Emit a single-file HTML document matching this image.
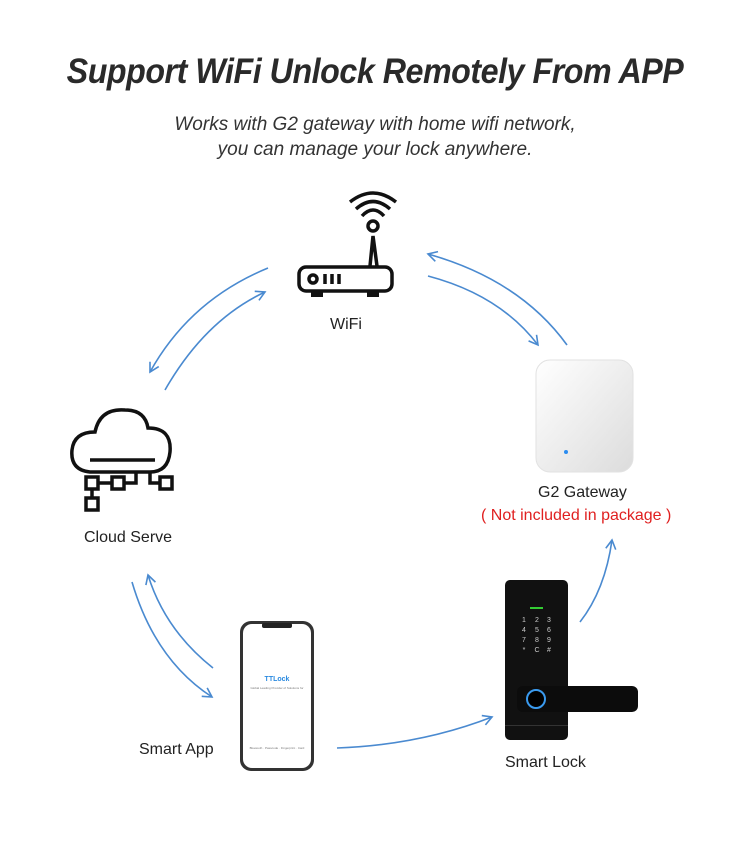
<!DOCTYPE html>
<html><head><meta charset="utf-8"><style>
body{margin:0;background:#fff;}
.w{position:relative;width:750px;height:850px;overflow:hidden;font-family:"Liberation Sans",sans-serif;}
.t{position:absolute;left:0;width:750px;text-align:center;}
</style></head><body><div class="w">
<div class="t" style="top:52px;font-size:35px;font-weight:bold;font-style:italic;color:#2a2a2a;letter-spacing:-0.5px;transform:scaleX(0.92);">Support WiFi Unlock Remotely From APP</div>
<div class="t" style="top:112px;font-size:19px;font-style:italic;color:#333;line-height:25px;">Works with G2 gateway with home wifi network,<br>you can manage your lock anywhere.</div>

<svg width="750" height="850" style="position:absolute;left:0;top:0">
<defs><marker id="a" markerWidth="12" markerHeight="12" refX="10" refY="6" orient="auto" markerUnits="userSpaceOnUse"><path d="M1,1 L10,6 L1,11" fill="none" stroke="#4a8ad0" stroke-width="1.6"/></marker></defs>
<g fill="none" stroke="#4a8ad0" stroke-width="1.6">
<path d="M268,268 Q190,300 150,372" marker-end="url(#a)"/>
<path d="M165,390 Q205,320 265,292" marker-end="url(#a)"/>
<path d="M567,345 Q520,280 428,254" marker-end="url(#a)"/>
<path d="M428,276 Q500,295 538,345" marker-end="url(#a)"/>
<path d="M580,622 Q605,590 612,540" marker-end="url(#a)"/>
<path d="M132,582 Q155,660 212,697" marker-end="url(#a)"/>
<path d="M213,668 Q165,630 148,575" marker-end="url(#a)"/>
<path d="M337,748 Q420,745 492,717" marker-end="url(#a)"/>
</g>
<g fill="none" stroke="#111" stroke-width="3.5">
<rect x="299" y="267" width="93" height="24" rx="7"/>
<circle cx="313" cy="279" r="4"/>
<path d="M325,274v10M332,274v10M339,274v10"/>
<path d="M370,266 L373,236 L377,266"/>
<circle cx="373" cy="226" r="5"/>
<path d="M362,216 Q373,204 384,216"/><path d="M356,209 Q373,194 390,209"/><path d="M350,202 Q373,184 396,202"/>
</g>
<rect x="311" y="292" width="12" height="5" fill="#111"/><rect x="367" y="292" width="12" height="5" fill="#111"/>
<g fill="none" stroke="#111" stroke-width="3.5">
<path d="M90,472 Q70,470 72,450 Q74,432 95,432 Q100,408 125,410 Q145,410 148,428 Q172,428 170,452 Q168,472 150,472 Z"/>
<path d="M90,460 H155"/>
<rect x="86" y="477" width="12" height="12"/><rect x="112" y="477" width="12" height="12"/><rect x="160" y="477" width="12" height="12"/><rect x="86" y="498" width="12" height="12"/>
<path d="M98,483 H112 M136,472 V483 H124 M150,472 V483 H160 M92,489 V498"/>
</g>
<defs><linearGradient id="g" x1="0" y1="0" x2="1" y2="1"><stop offset="0" stop-color="#fff"/><stop offset="1" stop-color="#dcdcdc"/></linearGradient></defs>
<rect x="536" y="360" width="97" height="112" rx="14" fill="url(#g)" stroke="#e2e2e2"/>
<circle cx="566" cy="452" r="2" fill="#2a8cf0"/>
<rect x="240" y="621" width="74" height="150" rx="11" fill="#333"/>
<rect x="243" y="624" width="68" height="144" rx="9" fill="#fff"/>
<rect x="262" y="623" width="30" height="5" rx="2" fill="#222"/>
<text x="277" y="681" font-size="7" font-weight="bold" fill="#2a8ae0" text-anchor="middle" font-family="Liberation Sans">TTLock</text>
<text x="277" y="689" font-size="3" fill="#777" text-anchor="middle">Global Leading Provider of Solutions for</text>
<text x="277" y="749" font-size="3" fill="#777" text-anchor="middle">Bluetooth · Passcode · Fingerprint · Card</text>
<rect x="505" y="580" width="63" height="160" rx="5" fill="#111"/>
<rect x="530" y="607" width="13" height="2" fill="#3c3"/>
<g fill="#ccc" font-size="7" font-family="Liberation Sans" text-anchor="middle">
<text x="524" y="622">1</text><text x="537" y="622">2</text><text x="549" y="622">3</text>
<text x="524" y="632">4</text><text x="537" y="632">5</text><text x="549" y="632">6</text>
<text x="524" y="642">7</text><text x="537" y="642">8</text><text x="549" y="642">9</text>
<text x="524" y="652">*</text><text x="537" y="652">C</text><text x="549" y="652">#</text></g>
<rect x="517" y="686" width="121" height="26" rx="6" fill="#0c0c0c"/>
<circle cx="536" cy="699" r="9" fill="#000" stroke="#3a9aee" stroke-width="2"/>
<rect x="505" y="725" width="63" height="1" fill="#333"/>
</svg>

<div style="position:absolute;left:330px;top:316px;font-size:16px;color:#222">WiFi</div>
<div style="position:absolute;left:84px;top:529px;font-size:16px;color:#222">Cloud Serve</div>
<div style="position:absolute;left:538px;top:484px;font-size:16px;color:#222">G2 Gateway</div>
<div style="position:absolute;left:481px;top:507px;font-size:16px;color:#e02020">( Not included in package )</div>
<div style="position:absolute;left:139px;top:741px;font-size:16px;color:#222">Smart App</div>
<div style="position:absolute;left:505px;top:754px;font-size:16px;color:#222">Smart Lock</div>
</div></body></html>
